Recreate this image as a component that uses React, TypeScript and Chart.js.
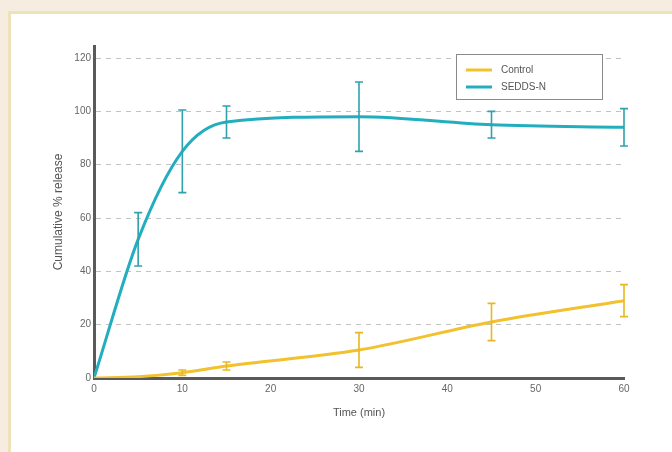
import React, { useEffect, useRef } from "react";
import { Chart, registerables } from "chart.js";

Chart.register(...registerables);

const times = [0, 5, 10, 15, 30, 45, 60];
const controlValues = [0, 0.5, 2, 4.5, 10.5, 21, 29];
const controlErrors = [0, 0, 1, 1.5, 6.5, 7, 6];
const seddsValues = [0, 52, 85, 96, 98, 95, 94];
const seddsErrors = [0, 10, 15.5, 6, 13, 5, 7];
const yTickValues = [0, 20, 40, 60, 80, 100, 120];
const xTickValues = [0, 10, 20, 30, 40, 50, 60];
const seriesLabels = ["Control", "SEDDS-N"];
const xTitle = "Time (min)";
const yTitle = "Cumulative % release";

const CONTROL_COLOR = "#f2c12e";
const SEDDS_COLOR = "#22aebe";
const FONT = "'Liberation Sans', Arial, sans-serif";

const errorBarPlugin = {
  id: "errorBars",
  afterDatasetsDraw(chart: any) {
    const ctx = chart.ctx;
    const x = chart.scales.x;
    const y = chart.scales.y;
    chart.data.datasets.forEach((ds: any) => {
      const errs: number[] = ds.errors || [];
      ctx.save();
      ctx.strokeStyle = ds.errorColor || ds.borderColor;
      ctx.lineWidth = 1.6;
      ds.data.forEach((pt: any, i: number) => {
        const e = errs[i];
        if (!e) return;
        const px = x.getPixelForValue(pt.x);
        const top = y.getPixelForValue(pt.y + e);
        const bot = y.getPixelForValue(pt.y - e);
        ctx.beginPath();
        ctx.moveTo(px, top);
        ctx.lineTo(px, bot);
        ctx.moveTo(px - 4, top);
        ctx.lineTo(px + 4, top);
        ctx.moveTo(px - 4, bot);
        ctx.lineTo(px + 4, bot);
        ctx.stroke();
      });
      ctx.restore();
    });
  },
};

const legendBoxPlugin = {
  id: "legendBox",
  afterDraw(chart: any) {
    const ctx = chart.ctx;
    const left = 456;
    const top = 54;
    const w = 146;
    const h = 45;
    ctx.save();
    ctx.fillStyle = "#ffffff";
    ctx.fillRect(left, top, w, h);
    ctx.strokeStyle = "#8a8a8a";
    ctx.lineWidth = 1;
    ctx.strokeRect(left + 0.5, top + 0.5, w, h);
    chart.data.datasets.forEach((ds: any, i: number) => {
      const yy = top + 16 + i * 17;
      ctx.strokeStyle = ds.borderColor;
      ctx.lineWidth = 3;
      ctx.beginPath();
      ctx.moveTo(left + 10, yy);
      ctx.lineTo(left + 36, yy);
      ctx.stroke();
      ctx.fillStyle = "#555";
      ctx.font = `10px ${FONT}`;
      ctx.textBaseline = "middle";
      ctx.fillText(ds.label, left + 45, yy);
    });
    ctx.restore();
  },
};

export default function App() {
  const ref = useRef<HTMLCanvasElement | null>(null);

  useEffect(() => {
    if (!ref.current) return;
    const mk = (vals: number[]) => times.map((t, i) => ({ x: t, y: vals[i] }));
    const chart = new Chart(ref.current, {
      type: "line",
      data: {
        datasets: [
          {
            label: seriesLabels[0],
            data: mk(controlValues),
            errors: controlErrors,
            borderColor: CONTROL_COLOR,
            errorColor: "#e8b820",
            borderWidth: 3,
            pointRadius: 0,
            cubicInterpolationMode: "monotone",
          } as any,
          {
            label: seriesLabels[1],
            data: mk(seddsValues),
            errors: seddsErrors,
            borderColor: SEDDS_COLOR,
            errorColor: "#2fa2ad",
            borderWidth: 3,
            pointRadius: 0,
            cubicInterpolationMode: "monotone",
          } as any,
        ],
      },
      options: {
        animation: false,
        responsive: false,
        maintainAspectRatio: false,
        layout: { padding: { left: 47, right: 48, top: 46, bottom: 28 } },
        plugins: { legend: { display: false }, tooltip: { enabled: false } },
        scales: {
          x: {
            type: "linear",
            min: 0,
            max: 60,
            afterBuildTicks: (s: any) => {
              s.ticks = xTickValues.map((v) => ({ value: v }));
            },
            afterFit: (s: any) => {
              s.height = 46;
            },
            grid: { display: false, drawTicks: false },
            border: { display: true, color: "#5a5a5a", width: 3 },
            ticks: { color: "#666", font: { size: 10, family: FONT }, padding: 5 },
            title: {
              display: true,
              text: xTitle,
              color: "#555",
              font: { size: 11, family: FONT },
              padding: { top: 6 },
            },
          },
          y: {
            type: "linear",
            min: 0,
            max: 124.5,
            afterBuildTicks: (s: any) => {
              s.ticks = yTickValues.map((v) => ({ value: v }));
            },
            afterFit: (s: any) => {
              s.width = 47;
            },
            grid: {
              color: (c: any) => (c.tick && c.tick.value === 0 ? "rgba(0,0,0,0)" : "#c2c2c2"),
              lineWidth: 1,
              drawTicks: false,
            },
            border: { display: true, color: "#5a5a5a", width: 3, dash: [5, 5] },
            ticks: { color: "#666", font: { size: 10, family: FONT }, padding: 3 },
            title: {
              display: true,
              text: yTitle,
              color: "#555",
              font: { size: 12, family: FONT },
              padding: { bottom: 4 },
            },
          },
        },
      } as any,
      plugins: [errorBarPlugin, legendBoxPlugin],
    });
    return () => chart.destroy();
  }, []);

  return (
    <div
      style={{
        position: "fixed",
        left: 0,
        top: 0,
        width: 672,
        height: 452,
        background: "#f6ecdf",
        overflow: "hidden",
      }}
    >
      <div
        style={{
          position: "absolute",
          left: 8,
          top: 11,
          right: 0,
          bottom: 0,
          background: "#ffffff",
          borderLeft: "3px solid #ece4b8",
          borderTop: "3px solid #ece4b8",
        }}
      />
      <canvas
        ref={ref}
        width={672}
        height={452}
        style={{ position: "absolute", left: 0, top: 0, width: 672, height: 452 }}
      />
    </div>
  );
}
